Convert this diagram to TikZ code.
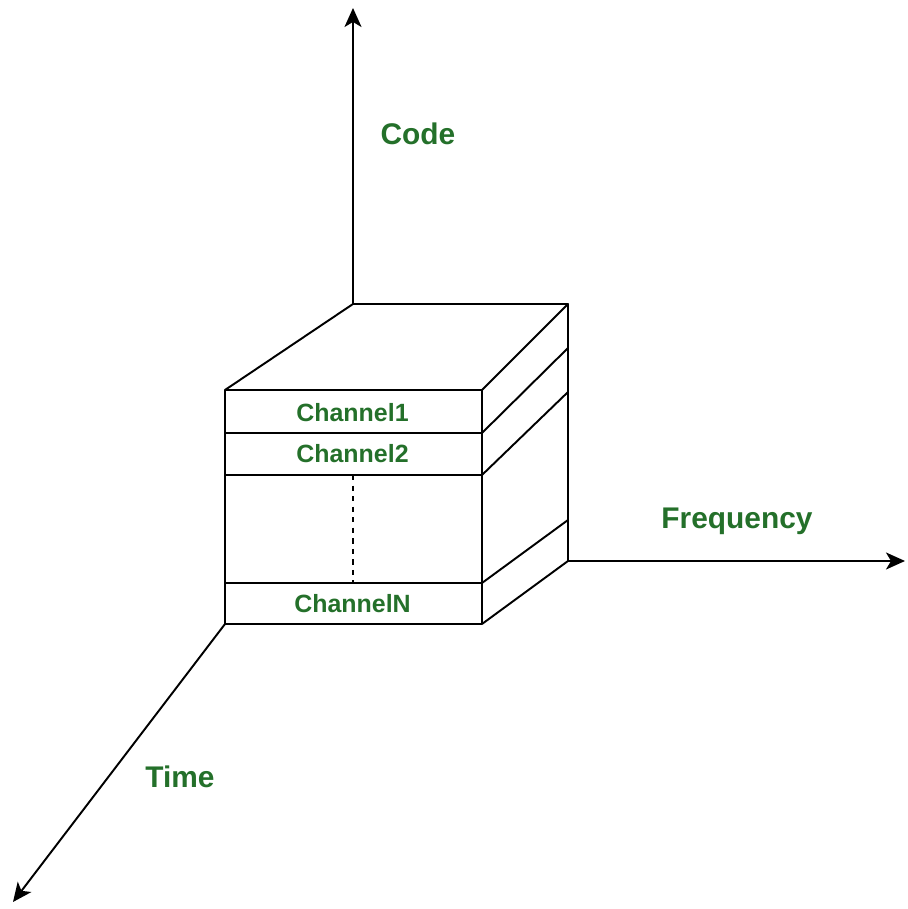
\documentclass[tikz,border=0pt]{standalone}
\usepackage{fontspec}
\setmainfont{Liberation Sans}
\usetikzlibrary{arrows.meta,positioning}
\definecolor{labelgreen}{RGB}{36,112,42}
\tikzset{
  axislabel/.style={font=\bfseries\fontsize{17}{20}\selectfont, text=labelgreen, anchor=base, inner sep=0pt},
  chanlabel/.style={font=\bfseries\fontsize{14.2}{17}\selectfont, text=labelgreen, anchor=base, inner sep=0pt},
  axisarrow/.style={-{Stealth[length=0.38cm,width=0.34cm,inset=0.1cm]}},
}
\begin{document}
\begin{tikzpicture}[line width=1.1pt, line join=round]
\useasboundingbox (0,0) rectangle (18.16,18.18);

% box corners
\coordinate (fbl) at (4.5,5.70);
\coordinate (ftr) at (9.64,10.38);
\coordinate (ftl) at (4.5,10.38);
\coordinate (fbr) at (9.64,5.70);
\coordinate (btl) at (7.06,12.1);
\coordinate (btr) at (11.36,12.1);
\coordinate (bbr) at (11.36,6.96);

% axis ends
\coordinate (codeend) at (7.06,18.02);
\coordinate (freqend) at (18.1,6.96);
\coordinate (timeend) at (0.26,0.14);

% front face with channel rows
\draw (fbl) rectangle (ftr);
\draw (4.5,9.52) -- (9.64,9.52);
\draw (4.5,8.68) -- (9.64,8.68);
\draw (4.5,6.52) -- (9.64,6.52);
\draw[dashed, line width=0.9pt] (7.06,8.68) -- (7.06,6.52);

% top and side
\draw (ftl) -- (btl) -- (btr) -- (ftr);
\draw (btr) -- (bbr) -- (fbr);
\draw (9.64,9.52) -- (11.36,11.22);
\draw (9.64,8.68) -- (11.36,10.34);
\draw (9.64,6.52) -- (11.36,7.78);

\node[chanlabel] (ch1) at (7.05,9.74) {Channel1};
\node[chanlabel] (ch2) at (7.05,8.92) {Channel2};
\node[chanlabel] (chn) at (7.05,5.92) {ChannelN};

% axes
\draw[axisarrow] (btl) -- (codeend);
\draw[axisarrow] (bbr) -- (freqend);
\draw[axisarrow] (fbl) -- (timeend);

\node[axislabel] (code) at (8.36,15.28) {Code};
\node[axislabel] (freq) at (14.74,7.6) {Frequency};
\node[axislabel] (time) at (3.6,2.42) {Time};
\end{tikzpicture}
\end{document}
